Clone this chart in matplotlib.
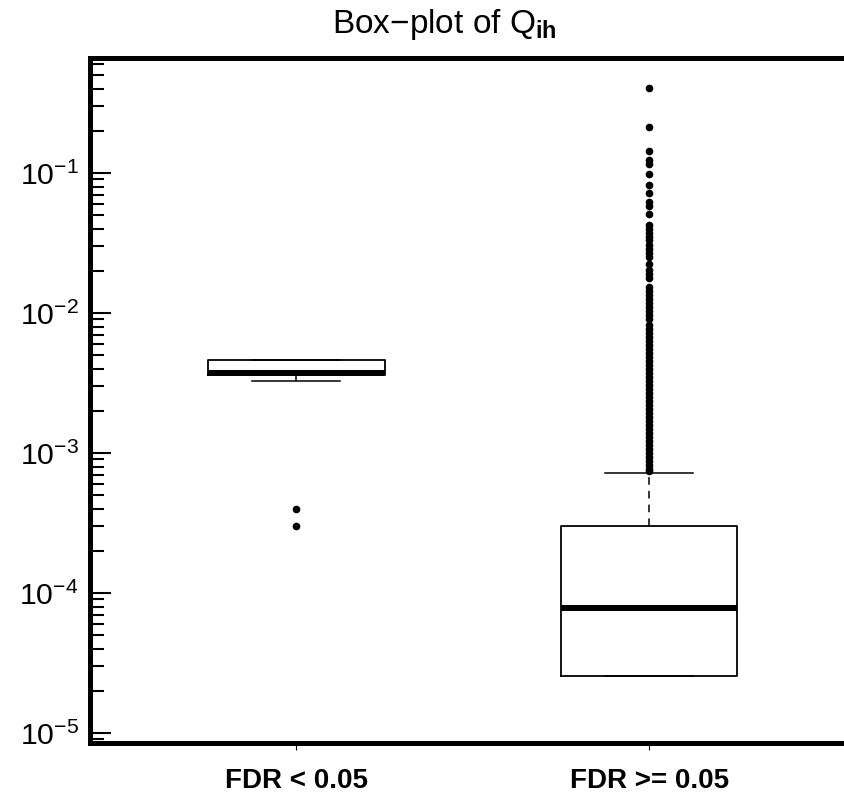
import matplotlib
matplotlib.use("Agg")
import matplotlib.pyplot as plt
from matplotlib.ticker import LogLocator, LogFormatterSciNotation, NullFormatter

plt.rcParams['font.family'] = ['Liberation Sans', 'DejaVu Sans']
plt.rcParams['mathtext.fontset'] = 'custom'
plt.rcParams['mathtext.rm'] = 'Liberation Sans'
plt.rcParams['mathtext.it'] = 'Liberation Sans:italic'
plt.rcParams['mathtext.bf'] = 'Liberation Sans:bold'

# ---- data ----
categories = ["FDR < 0.05", "FDR >= 0.05"]

g1_q1 = 0.00358
g1_med = 0.00370
g1_q3 = 0.00461
g1_whislo = 0.00327
g1_whishi = 0.00461
g1_fliers = [0.000398, 0.000301]

g2_q1 = 2.55e-5
g2_med = 7.8e-5
g2_q3 = 3.01e-4
g2_whislo = 2.55e-5
g2_whishi = 7.2e-4
g2_fliers = [
    0.405, 0.213, 0.1436, 0.1239, 0.1160, 0.0984, 0.0821, 0.0720, 0.0621, 0.0581,
    0.0510, 0.0425, 0.0398, 0.0373, 0.0349, 0.0332, 0.0306, 0.0287, 0.0268, 0.0251,
    0.0224, 0.0203, 0.0190, 0.0178, 0.01535, 0.01436, 0.01345, 0.01259, 0.01178,
    0.01104, 0.01033, 0.00968, 0.00906, 0.00821, 0.00769, 0.00720, 0.00674, 0.00631,
    0.00591, 0.00553, 0.00518, 0.00485, 0.00454, 0.00425, 0.00398, 0.00373, 0.00349,
    0.00327, 0.00306, 0.00287, 0.00268, 0.00251, 0.00235, 0.00220, 0.00206, 0.00193,
    0.00181, 0.00169, 0.00158, 0.00148, 0.00139, 0.00130, 0.00122, 0.00114, 0.00107,
    0.00100, 0.000936, 0.000876, 0.000820, 0.000768, 0.000745,
]

stats = [
    dict(med=g1_med, q1=g1_q1, q3=g1_q3, whislo=g1_whislo, whishi=g1_whishi,
         fliers=g1_fliers, label=categories[0]),
    dict(med=g2_med, q1=g2_q1, q3=g2_q3, whislo=g2_whislo, whishi=g2_whishi,
         fliers=g2_fliers, label=categories[1]),
]

W, H = 844, 793
fig = plt.figure(figsize=(W / 100, H / 100), dpi=100)
ax_left = 90 / W
ax_bottom = (H - 743) / H
ax_top = (H - 58) / H
ax_width = 762 / W
ax = fig.add_axes([ax_left, ax_bottom, ax_width, ax_top - ax_bottom])

ax.bxp(stats, positions=[1, 2], widths=0.5, capwidths=0.25,
       boxprops=dict(color='black', linewidth=1.3),
       medianprops=dict(color='black', linewidth=4.3, solid_capstyle='butt'),
       whiskerprops=dict(color='black', linewidth=1.1, linestyle=(0, (5, 4))),
       capprops=dict(color='black', linewidth=1.1),
       flierprops=dict(marker='o', markerfacecolor='black', markeredgecolor='black',
                       markersize=4.5, linestyle='none'),
       showfliers=True)

ax.set_yscale('log')
ax.set_ylim(8.48e-6, 0.663)
ax.set_xlim(0.415, 2.575)

ax.yaxis.set_major_locator(LogLocator(base=10, numticks=20))
ax.yaxis.set_minor_locator(LogLocator(base=10, subs=range(2, 10), numticks=20))
ax.yaxis.set_major_formatter(LogFormatterSciNotation())
ax.yaxis.set_minor_formatter(NullFormatter())

for s in ['left', 'bottom', 'top']:
    ax.spines[s].set_linewidth(3.6)
ax.spines['right'].set_visible(False)

ax.tick_params(axis='y', which='major', direction='in', length=15, width=1.5,
               labelsize=21.8, pad=8)
ax.tick_params(axis='y', which='minor', direction='in', length=10, width=1.5)
ax.tick_params(axis='x', which='major', direction='out', length=5, width=0.8,
               labelsize=20, pad=13)
ax.set_xticks([1, 2])
ax.set_xticklabels(categories, fontweight='bold')

fig.text(444 / W, (H - 25) / H, r"Box−plot of Q$_{\mathbf{ih}}$", ha='center',
         va='center', fontsize=24)

fig.savefig("out.png", dpi=100)
